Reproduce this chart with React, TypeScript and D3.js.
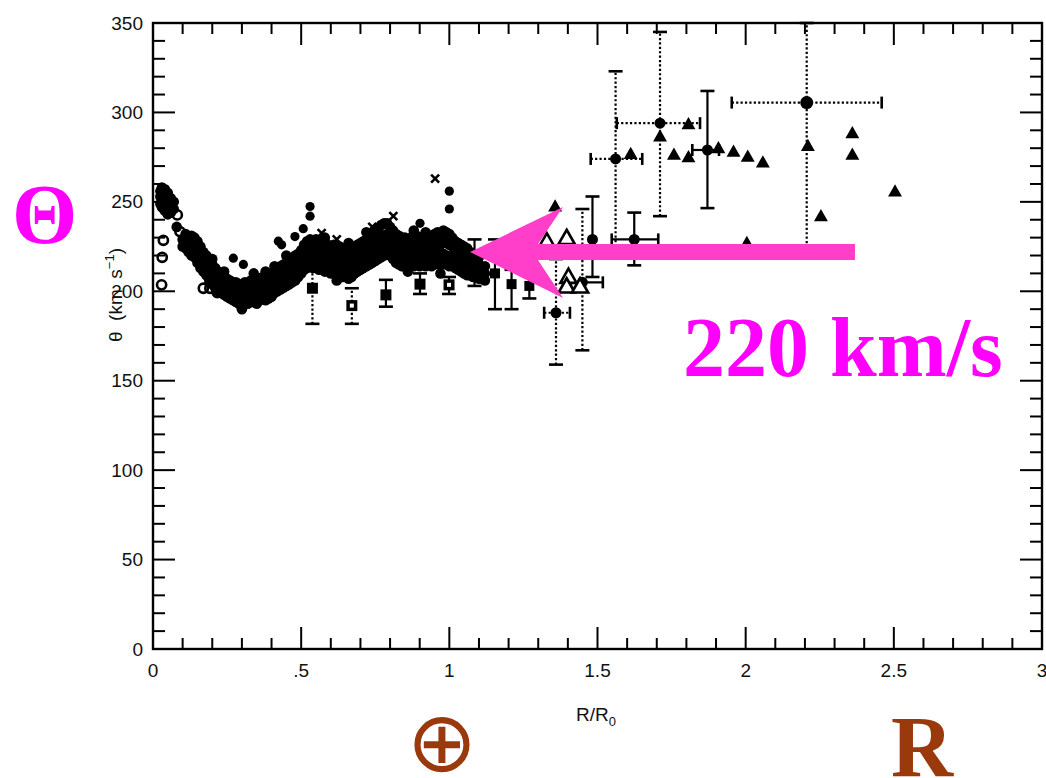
import React from "react";
import * as d3 from "d3";

// ---------- data ----------
const xTickLabels = ["0", ".5", "1", "1.5", "2", "2.5", "3"];
const yTickLabels = ["0", "50", "100", "150", "200", "250", "300", "350"];

// dense filled band (tangent-point data): [R/R0, list of Θ values]
const blobColumns: [number, number[]][] = [
  [0.025, [249, 253, 256]], [0.03, [247, 251, 255, 258]], [0.04, [245, 249, 253, 257]],
  [0.05, [243, 247, 251, 255]], [0.06, [244, 248, 252]], [0.07, [246, 250]],
  [0.08, [236]], [0.1, [225, 229]],
  [0.11, [224, 228, 232]], [0.12, [222, 226, 230]], [0.13, [220, 224, 228, 231]],
  [0.14, [219, 223, 227, 230]], [0.15, [216, 220, 224, 228]], [0.16, [213, 217, 221, 225]],
  [0.17, [211, 215, 219, 222]], [0.18, [209, 213, 217, 220]], [0.19, [206, 210, 214, 218]],
  [0.2, [204, 208, 212, 215]], [0.21, [202, 206, 210, 213]], [0.22, [200, 204, 208, 211]],
  [0.23, [199, 203, 207, 210]], [0.24, [198, 201, 205, 208]], [0.25, [197, 200, 204, 207]],
  [0.26, [196, 199, 203, 206]], [0.27, [195, 198, 202, 205]], [0.28, [194, 198, 201, 205]],
  [0.29, [193, 197, 200, 204]], [0.3, [193, 196, 200, 203]], [0.31, [194, 197, 201, 205]],
  [0.32, [193, 197, 200, 204]], [0.33, [194, 198, 202, 206]], [0.34, [194, 198, 203, 207]],
  [0.35, [193, 197, 201, 205]], [0.36, [195, 199, 203, 207]], [0.37, [196, 200, 204, 208]],
  [0.38, [195, 199, 203, 207]], [0.39, [196, 200, 205, 209]], [0.4, [197, 201, 206, 210]],
  [0.41, [199, 203, 207, 211]], [0.42, [200, 204, 209, 213]], [0.43, [201, 205, 210, 214]],
  [0.44, [202, 206, 211, 215]], [0.45, [203, 207, 212, 216]], [0.46, [204, 208, 213, 217]],
  [0.47, [205, 209, 214, 218]], [0.48, [206, 211, 215, 220]], [0.49, [208, 212, 217, 221]],
  [0.5, [210, 214, 219, 223]], [0.51, [212, 217, 221, 226]], [0.52, [213, 218, 223, 228]],
  [0.53, [214, 219, 224, 229]], [0.54, [213, 218, 223, 228]], [0.55, [214, 219, 224, 229]],
  [0.56, [212, 217, 222, 227]], [0.57, [213, 218, 223, 228]], [0.58, [211, 216, 221, 226]],
  [0.59, [212, 217, 221, 226]], [0.6, [210, 215, 220, 225]], [0.61, [211, 216, 221, 226]],
  [0.62, [209, 214, 219, 224]], [0.63, [210, 215, 220, 225]], [0.64, [208, 213, 218, 223]],
  [0.65, [209, 214, 219, 224]], [0.66, [207, 212, 217, 222]], [0.67, [208, 213, 218, 223]],
  [0.68, [210, 215, 220, 225]], [0.69, [211, 216, 221, 226]], [0.7, [212, 217, 222, 227]],
  [0.71, [213, 218, 223, 228]], [0.72, [214, 219, 224, 229]], [0.73, [215, 220, 225, 230]],
  [0.74, [216, 221, 227, 232]], [0.75, [217, 222, 228, 234]], [0.76, [218, 223, 229, 235]],
  [0.77, [219, 224, 230, 237]], [0.78, [220, 225, 231, 238]], [0.79, [221, 226, 232, 238]],
  [0.8, [220, 225, 231, 236]], [0.81, [218, 223, 229, 234]], [0.82, [216, 221, 227, 232]],
  [0.83, [215, 220, 226, 231]], [0.84, [214, 219, 225, 230]], [0.85, [215, 220, 225, 230]],
  [0.86, [214, 219, 224, 229]], [0.87, [215, 220, 225, 230]], [0.88, [214, 219, 224, 229]],
  [0.89, [215, 220, 226, 231]], [0.9, [214, 219, 224, 229]], [0.91, [215, 220, 225, 230]],
  [0.92, [214, 219, 224, 229]], [0.93, [215, 220, 226, 231]], [0.94, [214, 219, 225, 230]],
  [0.95, [215, 220, 226, 232]], [0.96, [216, 221, 227, 233]], [0.97, [215, 220, 226, 232]],
  [0.98, [216, 221, 228, 234]], [0.99, [215, 220, 227, 233]], [1.0, [214, 219, 226, 232]],
  [1.01, [215, 220, 225, 230]], [1.02, [213, 218, 223, 228]], [1.03, [212, 217, 222, 227]],
  [1.04, [211, 216, 221, 226]], [1.05, [210, 215, 220, 225]], [1.06, [209, 214, 219, 224]],
  [1.07, [209, 213, 218, 222]], [1.08, [208, 212, 217, 221]], [1.09, [208, 212, 216, 220]],
  [1.1, [207, 211, 215, 219]], [1.12, [206, 210, 214]],
];
// ragged edge points of the band
const blobExtraX = [0.3, 0.34, 0.38, 0.45, 0.58, 0.62, 0.66, 0.72, 0.86, 0.88, 0.92, 0.97, 0.2, 0.24, 0.41];
const blobExtraY = [190, 210, 211, 220, 230, 206, 227, 233, 211, 234, 233, 210, 218, 211, 214];

// scattered filled circles
const dotX = [0.271, 0.305, 0.423, 0.434, 0.479, 0.507, 0.53, 0.53, 0.901, 1.0, 1.0];
const dotY = [218.5, 215, 228, 226, 230.6, 235, 242, 247.4, 238, 246, 256];

// crosses
const crossX = [0.569, 0.811, 0.952, 0.62, 0.74];
const crossY = [232.5, 242, 263, 229, 236];

// open circles
const ringX = [0.035, 0.04, 0.035, 0.031, 0.029, 0.082, 0.091, 0.125, 0.17, 0.192, 0.217];
const ringY = [256, 247, 228.5, 219, 203.6, 242.7, 233.4, 226, 201.7, 201.7, 199.3];

// squares with error bars
const sqX = [0.538, 0.671, 0.786, 0.901, 0.999];
const sqY = [201.7, 192, 198, 204, 203.6];
const sqLo = [181.8, 181.8, 191.4, 198.5, 198.5];
const sqHi = [217.6, 201.7, 206.4, 210, 208];
const sqDotted = [true, true, false, false, false];
const sqHollow = [false, true, false, false, true];

// outer-galaxy points with error bars
const epX = [1.085, 1.154, 1.21, 1.27, 1.36, 1.449, 1.483, 1.624, 1.561, 1.711, 1.871, 2.206];
const epY = [216, 210, 204, 203, 188, 205, 229, 229, 274, 294, 279, 305.5];
const epLo = [203, 190, 190, 196, 159, 167, 208, 214.5, 225, 242, 246.5, 222];
const epHi = [229, 229, 212, 210, 218, 246, 253, 244, 323, 345, 312, 350];
const epXLo = [NaN, NaN, NaN, NaN, 1.32, 1.41, NaN, 1.548, 1.477, 1.565, 1.82, 1.953];
const epXHi = [NaN, NaN, NaN, NaN, 1.407, 1.518, NaN, 1.705, 1.651, 1.846, 1.91, 2.459];
const epDotV = [false, false, false, false, true, true, false, false, true, true, false, true];
const epDotH = [false, false, false, false, true, false, false, false, true, true, false, true];
const epSquare = [true, true, true, true, false, false, false, false, false, false, false, false];

// open triangles
const otriX = [1.396, 1.329, 1.402, 1.396, 1.441];
const otriY = [229.7, 227.8, 208, 202.6, 202.6];

// filled triangles
const ftriX = [1.357, 1.612, 1.807, 1.711, 1.758, 1.807, 1.908, 1.959, 2.007, 2.058, 2.21, 2.36, 2.36, 2.504, 2.254, 2.004];
const ftriY = [247.4, 276.8, 293.4, 286.5, 276.3, 275, 280, 278, 275.3, 272, 281.3, 288.4, 276.3, 255.8, 242, 227];

// ---------- layout ----------
const W = 1046, H = 778;
const x = d3.scaleLinear().domain([0, 3]).range([153, 1042]);
const y = d3.scaleLinear().domain([0, 350]).range([649, 23]);

const SANS = "'Liberation Sans', Arial, Helvetica, sans-serif";
const SERIF = "'Liberation Serif', 'Times New Roman', serif";
const MAGENTA = "#ff00ff";
const ARROW = "#ff3ec9";
const BROWN = "#9a3a0c";

function ErrBar({ cx, lo, hi, xlo, xhi, cy, dotV, dotH }: any) {
  const dashV = dotV ? "2.2,2.2" : undefined;
  const dashH = dotH ? "2.2,2.2" : undefined;
  return (
    <g stroke="#000" strokeWidth={2.2}>
      <line x1={cx} x2={cx} y1={y(lo)} y2={y(hi)} strokeDasharray={dashV} />
      <line x1={cx - 7} x2={cx + 7} y1={y(lo)} y2={y(lo)} strokeWidth={2.6} />
      <line x1={cx - 7} x2={cx + 7} y1={y(hi)} y2={y(hi)} strokeWidth={2.6} />
      {!isNaN(xlo) && (
        <>
          <line x1={x(xlo)} x2={x(xhi)} y1={cy} y2={cy} strokeDasharray={dashH} />
          <line x1={x(xlo)} x2={x(xlo)} y1={cy - 6} y2={cy + 6} strokeWidth={2.6} />
          <line x1={x(xhi)} x2={x(xhi)} y1={cy - 6} y2={cy + 6} strokeWidth={2.6} />
        </>
      )}
    </g>
  );
}

function tri(cx: number, cy: number, s: number) {
  return `M${cx},${cy - s * 0.6}L${cx + s * 0.58},${cy + s * 0.42}L${cx - s * 0.58},${cy + s * 0.42}Z`;
}

export default function App() {
  const xt = x.ticks(30);
  const yt = y.ticks(35);
  const isMajorX = (v: number) => Math.abs(v * 2 - Math.round(v * 2)) < 1e-6;
  const isMajorY = (v: number) => Math.round(v) % 50 === 0;
  const [x0, x1] = x.range();
  const [y0, y1] = y.range();

  const blobPts: [number, number][] = [];
  blobColumns.forEach(([bx, ys]) => ys.forEach((by) => blobPts.push([bx, by])));
  blobExtraX.forEach((bx, i) => blobPts.push([bx, blobExtraY[i]]));

  return (
    <svg width={W} height={H} style={{ position: "absolute", left: 0, top: 0, background: "#fff" }}>
      <rect width={W} height={H} fill="#fff" />
      {/* frame */}
      <rect x={x0} y={y1} width={x1 - x0} height={y0 - y1} fill="none" stroke="#000" strokeWidth={2.4} />
      {/* ticks */}
      <g stroke="#000" strokeWidth={2}>
        {xt.map((v, i) => {
          const L = isMajorX(v) ? 22 : 11;
          return (
            <g key={"xt" + i}>
              <line x1={x(v)} x2={x(v)} y1={y0} y2={y0 - L} />
              <line x1={x(v)} x2={x(v)} y1={y1} y2={y1 + L} />
            </g>
          );
        })}
        {yt.map((v, i) => {
          const L = isMajorY(v) ? 22 : 12;
          return (
            <g key={"yt" + i}>
              <line x1={x0} x2={x0 + L} y1={y(v)} y2={y(v)} />
              <line x1={x1} x2={x1 - L} y1={y(v)} y2={y(v)} />
            </g>
          );
        })}
      </g>
      {/* tick labels */}
      <g fontFamily={SANS} fontSize={19} fill="#111">
        {xTickLabels.map((t, i) => (
          <text key={"xl" + i} x={x(+t)} y={677} textAnchor="middle">{t}</text>
        ))}
        {yTickLabels.map((t, i) => (
          <text key={"yl" + i} x={143} y={y(+t)} textAnchor="end" dominantBaseline="central">{t}</text>
        ))}
      </g>
      {/* axis titles */}
      <text x={596} y={721} textAnchor="middle" fontFamily={SANS} fontSize={19} fill="#111">
        R/R<tspan fontSize={13} dy={5}>0</tspan>
      </text>
      <text transform="translate(122,295) rotate(-90)" textAnchor="middle" fontFamily={SANS} fontSize={19} fill="#111" style={{ whiteSpace: "pre" }}>
        {"θ  (km  s"}<tspan fontSize={13} dy={-8}>−1</tspan><tspan dy={8}>)</tspan>
      </text>

      {/* data */}
      <g>
        {blobPts.map(([bx, by], i) => (
          <circle key={"b" + i} cx={x(bx)} cy={y(by)} r={5.3} fill="#000" />
        ))}
        {dotX.map((v, i) => (
          <circle key={"d" + i} cx={x(v)} cy={y(dotY[i])} r={4.6} fill="#000" />
        ))}
        {crossX.map((v, i) => (
          <path key={"c" + i} d={`M${x(v) - 4},${y(crossY[i]) - 4}L${x(v) + 4},${y(crossY[i]) + 4}M${x(v) + 4},${y(crossY[i]) - 4}L${x(v) - 4},${y(crossY[i]) + 4}`} stroke="#000" strokeWidth={2.6} />
        ))}
        {ringX.map((v, i) => (
          <circle key={"r" + i} cx={x(v)} cy={y(ringY[i])} r={4.6} fill="none" stroke="#000" strokeWidth={2.6} />
        ))}
        {sqX.map((v, i) => (
          <g key={"s" + i}>
            <ErrBar cx={x(v)} lo={sqLo[i]} hi={sqHi[i]} xlo={NaN} xhi={NaN} cy={y(sqY[i])} dotV={sqDotted[i]} dotH={false} />
            <rect x={x(v) - 5.5} y={y(sqY[i]) - 5.5} width={11} height={11} fill="#000" />
            {sqHollow[i] && <rect x={x(v) - 2} y={y(sqY[i]) - 2} width={4} height={4} fill="#fff" />}
          </g>
        ))}
        {epX.map((v, i) => (
          <g key={"e" + i}>
            <ErrBar cx={x(v)} lo={epLo[i]} hi={epHi[i]} xlo={epXLo[i]} xhi={epXHi[i]} cy={y(epY[i])} dotV={epDotV[i]} dotH={epDotH[i]} />
            {epSquare[i] ? (
              <rect x={x(v) - 5} y={y(epY[i]) - 5} width={10} height={10} fill="#000" />
            ) : (
              <circle cx={x(v)} cy={y(epY[i])} r={i === 11 ? 6.5 : 5.5} fill="#000" />
            )}
          </g>
        ))}
        {otriX.map((v, i) => (
          <path key={"ot" + i} d={tri(x(v), y(otriY[i]), 14)} fill="#fff" stroke="#000" strokeWidth={2.6} />
        ))}
        {ftriX.map((v, i) => (
          <path key={"ft" + i} d={tri(x(v), y(ftriY[i]), 12)} fill="#000" />
        ))}
      </g>

      {/* annotations */}
      <path d="M470,252 L563,207 L538,244 L855,244 L855,260 L538,260 L563,298 Z" fill={ARROW} />
      <text x={683} y={376} fontFamily={SERIF} fontWeight="bold" fontSize={84} fill={MAGENTA}>220 km/s</text>
      <text x={12} y={243} fontFamily={SERIF} fontWeight="bold" fontSize={84} fill={MAGENTA}>Θ</text>
      <text x={442} y={771} textAnchor="middle" fontFamily="'DejaVu Sans', sans-serif" fontSize={84} fill={BROWN}>⊕</text>
      <text x={891} y={776} fontFamily={SERIF} fontWeight="bold" fontSize={86} fill={BROWN}>R</text>
    </svg>
  );
}
